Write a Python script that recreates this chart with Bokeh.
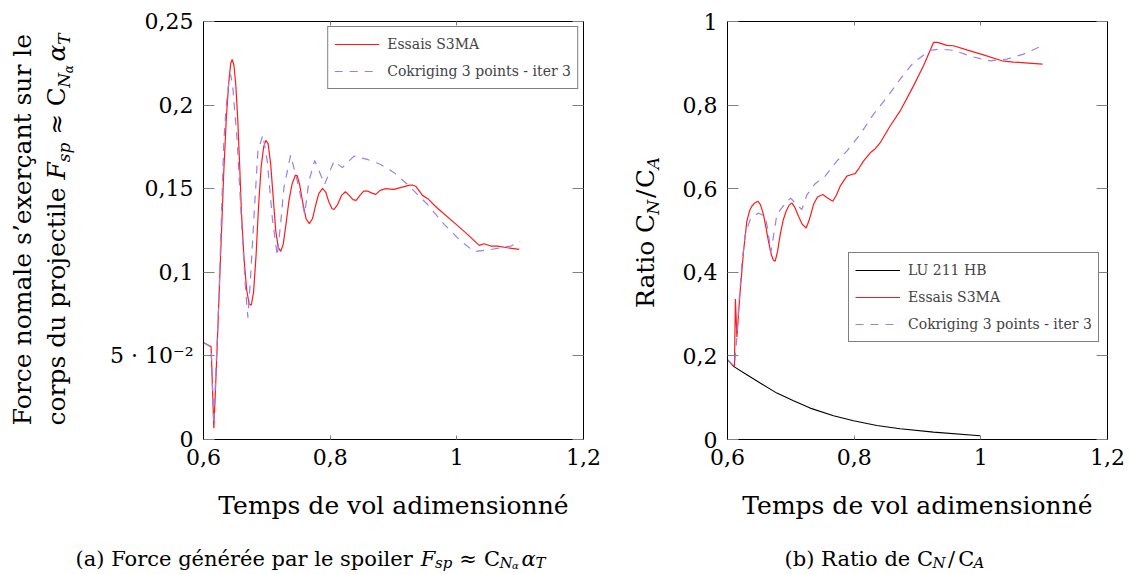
import math
from bokeh.plotting import figure
from bokeh.models import (Range1d, FixedTicker, LinearAxis, Label, Legend, LegendItem,
                          CustomJSTickFormatter)
from bokeh.layouts import row, column
from bokeh.embed import file_html
from bokeh.resources import INLINE

FONT = "DejaVu Serif"

# ---------------- data ----------------
x_ticks = [0.6, 0.8, 1.0, 1.2]
x_tick_labels = ["0,6", "0,8", "1", "1,2"]
a_y_ticks = [0, 0.05, 0.1, 0.15, 0.2, 0.25]
a_y_tick_labels = ["0", "5 · 10⁻²", "0,1", "0,15", "0,2", "0,25"]
b_y_ticks = [0, 0.2, 0.4, 0.6, 0.8, 1.0]
b_y_tick_labels = ["0", "0,2", "0,4", "0,6", "0,8", "1"]

# (a) Force générée par le spoiler
a_s3ma_x = [0.600, 0.612, 0.6163, 0.620, 0.624, 0.628, 0.632, 0.636, 0.640, 0.643,
            0.6453, 0.648, 0.651, 0.654, 0.657, 0.660, 0.664, 0.668, 0.672, 0.6754,
            0.679, 0.683, 0.687, 0.691, 0.695, 0.6985, 0.702, 0.706, 0.710, 0.714,
            0.718, 0.722, 0.726, 0.730, 0.735, 0.740, 0.745, 0.748, 0.752, 0.757,
            0.762, 0.767, 0.772, 0.777, 0.782, 0.788, 0.793, 0.798, 0.803, 0.806,
            0.811, 0.818, 0.824, 0.830, 0.836, 0.841, 0.847, 0.853, 0.859, 0.865,
            0.872, 0.879, 0.887, 0.895, 0.901, 0.909, 0.917, 0.924, 0.930, 0.935,
            0.940, 0.9457, 0.9536, 0.9694, 0.9958, 1.0169, 1.0353, 1.0432, 1.0537, 1.0643,
            1.0801, 1.0985]
a_s3ma_y = [0.058, 0.0554, 0.0068, 0.040, 0.080, 0.120, 0.160, 0.192, 0.214, 0.225,
            0.2273, 0.224, 0.212, 0.192, 0.165, 0.135, 0.108, 0.090, 0.081, 0.0803,
            0.088, 0.110, 0.140, 0.163, 0.175, 0.1789, 0.177, 0.165, 0.145, 0.125,
            0.115, 0.1125, 0.117, 0.128, 0.143, 0.153, 0.158, 0.1578, 0.152, 0.141,
            0.132, 0.1291, 0.132, 0.140, 0.147, 0.1502, 0.148, 0.142, 0.138, 0.1376,
            0.140, 0.146, 0.1482, 0.146, 0.1435, 0.1430, 0.146, 0.1485, 0.1486, 0.1475,
            0.1466, 0.149, 0.150, 0.1498, 0.1496, 0.1505, 0.1512, 0.152, 0.1522, 0.1515,
            0.149, 0.146, 0.1442, 0.1383, 0.1297, 0.1227, 0.1161, 0.1171, 0.1157, 0.1157,
            0.1147, 0.1137]

a_cok_x = [0.600, 0.612, 0.6163, 0.620, 0.6242, 0.628, 0.6321, 0.636, 0.640, 0.6427,
           0.646, 0.6532, 0.6611, 0.666, 0.6701, 0.674, 0.6796, 0.6859, 0.6938, 0.7007,
           0.7086, 0.7165, 0.722, 0.727, 0.7376, 0.7481, 0.7597, 0.7665, 0.7755, 0.7913,
           0.806, 0.8192, 0.8377, 0.8588, 0.8798, 0.901, 0.922, 0.9536, 0.980, 1.0063,
           1.0274, 1.0485, 1.0696, 1.0854, 1.1001]
a_cok_y = [0.058, 0.0554, 0.009, 0.045, 0.083, 0.130, 0.1785, 0.200, 0.214, 0.2183,
           0.212, 0.1785, 0.1227, 0.092, 0.0729, 0.095, 0.1327, 0.1725, 0.1821, 0.1665,
           0.1327, 0.1098, 0.130, 0.1506, 0.1701, 0.1546, 0.1347, 0.1546, 0.1669, 0.1526,
           0.1665, 0.1626, 0.1695, 0.1675, 0.1645, 0.1596, 0.1526, 0.1406, 0.1287, 0.1187,
           0.1124, 0.1133, 0.1147, 0.1157, 0.1183]

# (b) Ratio CN/CA
b_lu_x = [0.600, 0.6095, 0.6305, 0.6516, 0.6779, 0.7042, 0.7305, 0.7674, 0.7989, 0.8358,
          0.8726, 0.9253, 0.9989]
b_lu_y = [0.1909, 0.175, 0.155, 0.135, 0.111, 0.0927, 0.0751, 0.0567, 0.0447, 0.0335,
          0.0256, 0.0176, 0.0088]

b_s3ma_x = [0.600, 0.611, 0.6125, 0.6148, 0.620, 0.6253, 0.6305, 0.635, 0.6384, 0.643,
            0.6479, 0.652, 0.6568, 0.661, 0.6647, 0.669, 0.6725, 0.6753, 0.679, 0.6832,
            0.688, 0.6926, 0.697, 0.7016, 0.706, 0.7121, 0.718, 0.7242, 0.729, 0.7358,
            0.742, 0.7505, 0.758, 0.7663, 0.772, 0.7779, 0.7884, 0.796, 0.8016, 0.808,
            0.8147, 0.8253, 0.833, 0.8411, 0.8568, 0.8726, 0.8937, 0.9095, 0.9253, 0.9316,
            0.9463, 0.9568, 0.9779, 1.0042, 1.0332, 1.0516, 1.070, 1.0974]
b_s3ma_y = [0.190, 0.175, 0.336, 0.245, 0.355, 0.450, 0.522, 0.548, 0.558, 0.566,
            0.570, 0.562, 0.538, 0.505, 0.474, 0.443, 0.429, 0.4265, 0.450, 0.490,
            0.525, 0.546, 0.560, 0.566, 0.556, 0.534, 0.515, 0.506, 0.525, 0.562,
            0.580, 0.586, 0.578, 0.570, 0.585, 0.606, 0.630, 0.634, 0.636, 0.650,
            0.666, 0.686, 0.695, 0.710, 0.750, 0.786, 0.846, 0.894, 0.950, 0.950,
            0.943, 0.942, 0.932, 0.920, 0.906, 0.903, 0.901, 0.898]

b_cok_x = [0.600, 0.611, 0.6145, 0.6174, 0.6226, 0.6279, 0.6358, 0.6489, 0.6595, 0.664,
           0.6684, 0.673, 0.6779, 0.6937, 0.700, 0.7095, 0.7174, 0.7253, 0.7384, 0.7542,
           0.7726, 0.7884, 0.8095, 0.8305, 0.8516, 0.8726, 0.8937, 0.920, 0.9358, 0.9568,
           0.9884, 1.0147, 1.0411, 1.0674, 1.0926]
b_cok_y = [0.190, 0.175, 0.240, 0.315, 0.419, 0.490, 0.526, 0.542, 0.534, 0.500,
           0.4465, 0.490, 0.538, 0.570, 0.577, 0.562, 0.550, 0.585, 0.612, 0.630,
           0.666, 0.690, 0.730, 0.778, 0.818, 0.862, 0.902, 0.931, 0.934, 0.931,
           0.915, 0.906, 0.910, 0.922, 0.939]

RED = "#ff1a1a"
PURPLE = "#9c7fe3"
BLACK = "#000000"

# ------------- text helper (approx. DejaVu Serif advance widths, em) -------------
W = {' ': .318, '(': .390, ')': .390, ',': .318, '.': .318, '-': .338, "'": .275, '’': .318,
     '/': .337, '·': .318, '≈': .838, 'α': .66, 'é': .592, 'ç': .560,
     'a': .596, 'b': .640, 'c': .560, 'd': .640, 'e': .592, 'f': .370, 'g': .640, 'h': .644,
     'i': .320, 'j': .310, 'k': .606, 'l': .320, 'm': .948, 'n': .644, 'o': .602, 'p': .640,
     'q': .640, 'r': .478, 's': .513, 't': .402, 'u': .644, 'v': .565, 'w': .856, 'x': .564,
     'y': .565, 'z': .523, 'A': .722, 'C': .734, 'F': .683, 'N': .837, 'R': .770, 'T': .667}


def tw(text, size):
    return sum(W.get(ch, .636) for ch in text) * size


def rich(p, pieces, x0, y0, vertical=False):
    """pieces: (text, size, italic, shift_down_px) or ('', gap_px). Centered at (x0, y0);
    x0/y0 give the baseline position."""
    total = 0.0
    for pc in pieces:
        total += pc[1] if pc[0] == '' else tw(pc[0], pc[1])
    along = -total / 2
    for pc in pieces:
        if pc[0] == '':
            along += pc[1]
            continue
        t, s, it, sh = pc
        w = tw(t, s)
        style = dict(text_font=FONT, text_font_size=f"{s}px",
                     text_font_style="italic" if it else "normal", text_color="black")
        if vertical:
            x = x0 + sh - 0.36 * s
            y = y0 + along + w / 2
            p.add_layout(Label(x=x, y=y, text=t, angle=math.pi / 2, text_align="center",
                               text_baseline="middle", **style))
        else:
            p.add_layout(Label(x=x0 + along, y=y0 - sh, text=t, text_align="left",
                               text_baseline="alphabetic", **style))
        along += w


def fmt(tv, tl):
    return CustomJSTickFormatter(args=dict(tv=tv, tl=tl), code="""
        let best = 0, bd = Infinity;
        for (let i = 0; i < tv.length; i++) {
            const d = Math.abs(tv[i] - tick);
            if (d < bd) { bd = d; best = i; }
        }
        return tl[best];
    """)


BLANK = CustomJSTickFormatter(code="return '';")

FW, FH = 380, 418
TOP, BOTTOM = 21, 95
ROW_H = TOP + FH + BOTTOM
CAP_H = 39
FRAME_BOTTOM = TOP + FH   # 439 (page px)


def side_fig(w):
    """Text-only strip beside a plot; its frame is aligned with the plot frames."""
    f = figure(frame_width=w, frame_height=FH, x_range=Range1d(0, w), y_range=Range1d(0, FH),
               output_backend="svg", toolbar_location=None, min_border_left=0,
               min_border_right=0, min_border_top=TOP, min_border_bottom=BOTTOM,
               x_axis_location=None, y_axis_location=None,
               background_fill_color="white", border_fill_color="white")
    f.grid.visible = False
    f.outline_line_color = None
    return f


def cap_fig(w, h):
    f = figure(frame_width=w, frame_height=h, x_range=Range1d(0, w), y_range=Range1d(0, h),
               output_backend="svg", toolbar_location=None, min_border=0,
               x_axis_location=None, y_axis_location=None,
               background_fill_color="white", border_fill_color="white")
    f.grid.visible = False
    f.outline_line_color = None
    return f


def make_fig(ymax, yticks, ylabels, left, right):
    p = figure(frame_width=FW, frame_height=FH, x_range=Range1d(0.6, 1.2),
               y_range=Range1d(0, ymax), output_backend="svg", toolbar_location=None,
               min_border_left=left, min_border_right=right, min_border_top=TOP,
               min_border_bottom=BOTTOM, background_fill_color="white",
               border_fill_color="white")
    p.grid.visible = False
    p.outline_line_color = "black"
    p.outline_line_width = 1
    p.add_layout(LinearAxis(), "above")
    p.add_layout(LinearAxis(), "right")
    for ax in p.xaxis:
        ax.ticker = FixedTicker(ticks=x_ticks)
        ax.formatter = fmt(x_ticks, x_tick_labels)
        ax.major_tick_in = 4
    for ax in p.yaxis:
        ax.ticker = FixedTicker(ticks=yticks)
        ax.formatter = fmt(yticks, ylabels)
        ax.major_tick_in = 11
    for ax in p.xaxis + p.yaxis:
        ax.major_tick_out = 0
        ax.minor_tick_line_color = None
        ax.major_tick_line_color = "#808080"
        ax.major_tick_line_width = 1
        ax.axis_line_color = "black"
        ax.major_label_text_font = FONT
        ax.major_label_text_font_size = "22px"
        ax.major_label_text_color = "black"
        ax.major_label_standoff = 10
    for ax in (p.above[0], p.right[0]):
        ax.formatter = BLANK
        ax.major_label_standoff = 0
    p.below[0].major_label_standoff = 9
    p.below[0].axis_label = "Temps de vol adimensionné"
    p.below[0].axis_label_text_font = FONT
    p.below[0].axis_label_text_font_size = "25px"
    p.below[0].axis_label_text_font_style = "normal"
    p.below[0].axis_label_text_color = "black"
    p.below[0].axis_label_standoff = 23
    return p


def legend(p, items, loc):
    lg = Legend(items=items, location=loc, margin=5, padding=6, spacing=5,
                glyph_width=45, glyph_height=22, label_height=22, label_standoff=8,
                label_text_font=FONT, label_text_font_size="14px",
                border_line_color="black", border_line_width=1, background_fill_alpha=1)
    p.add_layout(lg)


# ---------------- (a) ----------------
L1_W = 95
p1 = make_fig(0.25, a_y_ticks, a_y_tick_labels, 203 - L1_W, 40)
r1 = p1.line(a_s3ma_x, a_s3ma_y, line_color=RED, line_width=1.2)
r2 = p1.line(a_cok_x, a_cok_y, line_color=PURPLE, line_width=1.2, line_dash="8 7")
legend(p1, [LegendItem(label="Essais S3MA", renderers=[r1]),
            LegendItem(label="Cokriging 3 points - iter 3", renderers=[r2])], "top_right")

t1 = side_fig(L1_W)
rich(t1, [("Force nomale s’exerçant sur le", 25, False, 0)], 31, FRAME_BOTTOM - 229,
     vertical=True)
rich(t1, [("corps du projectile", 25, False, 0), ('', 8), ("F", 25, True, 0),
          ("sp", 17, True, 5), ('', 8), ("≈", 25, False, 0), ('', 8), ("C", 25, False, 0),
          ("N", 17, True, 5), ("α", 12, True, 8), ('', 4), ("α", 25, True, 0),
          ("T", 17, True, 5)], 65, FRAME_BOTTOM - 229, vertical=True)

# ---------------- (b) ----------------
P1_RIGHT = 203 + FW + 40          # 623
L2_W = 50
p2 = make_fig(1.0, b_y_ticks, b_y_tick_labels, 727 - P1_RIGHT - L2_W, 20)
s1 = p2.line(b_lu_x, b_lu_y, line_color=BLACK, line_width=1.1)
s2 = p2.line(b_s3ma_x, b_s3ma_y, line_color=RED, line_width=1.2)
s3 = p2.line(b_cok_x, b_cok_y, line_color=PURPLE, line_width=1.2, line_dash="8 7")
legend(p2, [LegendItem(label="LU 211 HB", renderers=[s1]),
            LegendItem(label="Essais S3MA", renderers=[s2]),
            LegendItem(label="Cokriging 3 points - iter 3", renderers=[s3])], (121, 97))

t2 = side_fig(L2_W)
rich(t2, [("Ratio", 25, False, 0), ('', 8), ("C", 25, False, 0), ("N", 17, True, 5),
          ('', 2), ("/", 25, False, 0), ('', 2), ("C", 25, False, 0), ("A", 17, True, 5)],
     653.5 - P1_RIGHT, FRAME_BOTTOM - 232, vertical=True)

# ---------------- captions ----------------
TOTAL_W = 727 + FW + 20
cap = cap_fig(TOTAL_W, CAP_H)
CAP_BASE = CAP_H - (558 - ROW_H)
rich(cap, [("(a) Force générée par le spoiler", 21, False, 0), ('', 7), ("F", 21, True, 0),
           ("sp", 15, True, 4), ('', 7), ("≈", 21, False, 0), ('', 7), ("C", 21, False, 0),
           ("N", 15, True, 4), ("α", 10, True, 7), ('', 3), ("α", 21, True, 0),
           ("T", 15, True, 4)], 310, CAP_BASE)
rich(cap, [("(b) Ratio de", 21, False, 0), ('', 7), ("C", 21, False, 0), ("N", 15, True, 4),
           ('', 3), ("/", 21, False, 0), ('', 3), ("C", 21, False, 0), ("A", 15, True, 4)],
     884, CAP_BASE)

layout = column(row(t1, p1, t2, p2), cap)
open("out.html", "w").write(file_html(layout, INLINE))
